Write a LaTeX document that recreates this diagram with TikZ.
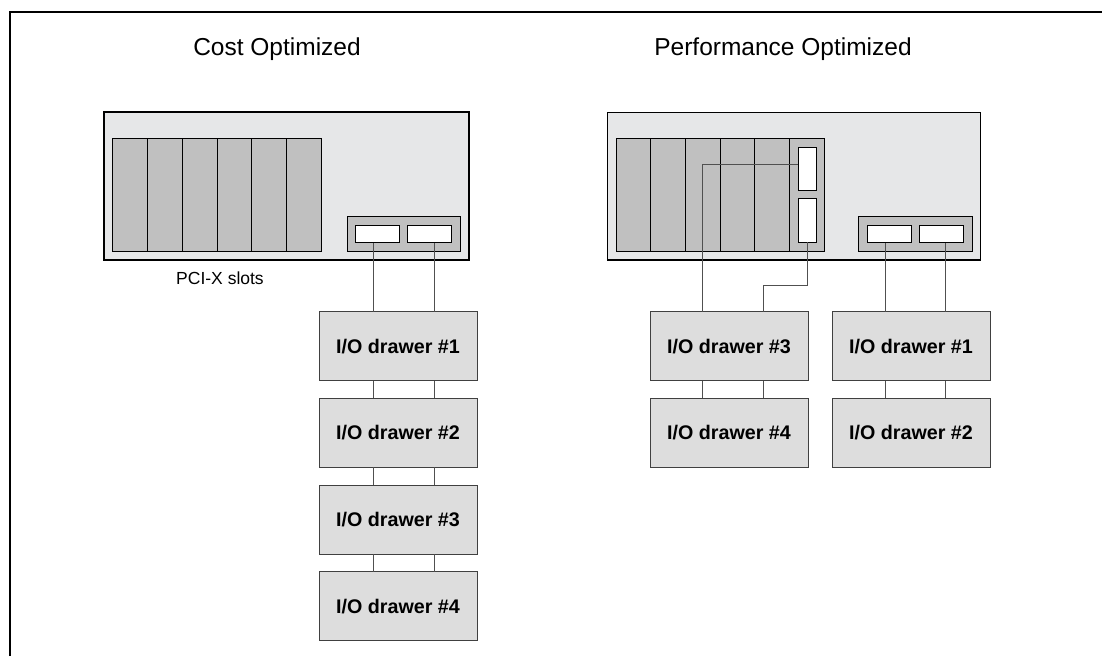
\documentclass[tikz,border=0pt]{standalone}
\usepackage{fontspec}
\setmainfont{Liberation Sans}
\usetikzlibrary{positioning}
\definecolor{casegray}{HTML}{E6E7E8}
\definecolor{slotgray}{HTML}{C0C0C0}
\definecolor{drawergray}{HTML}{DDDDDD}
\definecolor{wiregray}{HTML}{505050}
\tikzstyle{server} = [draw,fill=casegray,line width=1.2,inner sep=0,outer sep=0]
\tikzstyle{slot} = [draw,fill=slotgray,line width=1,inner sep=0,outer sep=0]
\tikzstyle{port} = [draw,fill=white,line width=1,inner sep=0,outer sep=0,minimum width=44,minimum height=17.7]
\tikzstyle{drawer} = [draw=black!75,fill=drawergray,line width=1,inner sep=0,outer sep=0,minimum width=158,minimum height=69,font=\fontsize{19.7}{23}\selectfont\bfseries]
\tikzstyle{cable} = [draw=wiregray,line width=0.9]
\tikzstyle{title} = [anchor=base,font=\fontsize{24.5}{28}\selectfont]

\begin{document}
\begin{tikzpicture}[x=1pt,y=-1pt]
    \useasboundingbox (0,0) rectangle (1102,656);
    \draw [line width=1.5] (10,656) -- (10,12) -- (1102,12);

    \node [title] (tcost) at (277,55) {Cost Optimized};
    \node [title] (tperf) at (783,55) {Performance Optimized};

    % cost optimized
    \node [server,minimum width=365,minimum height=148] (scost) at (286.5,186) {};
    \foreach \i in {0,...,5}
      \draw [slot] (112.7+34.77*\i,138.3) rectangle +(34.77,113.4);
    \node [slot,minimum width=113,minimum height=35.7] (hcost) at (403.5,233.9) {};
    \node [port] (pc1) at (377.3,233.9) {};
    \node [port] (pc2) at (429.7,233.9) {};
    \node [font=\fontsize{17.5}{20}\selectfont] (pci) at (220,278) {PCI-X slots};

    \node [drawer] (c1) at (398,346.2) {I/O drawer \#1};
    \node [drawer,below=17.7pt of c1] (c2) {I/O drawer \#2};
    \node [drawer,below=17.7pt of c2] (c3) {I/O drawer \#3};
    \node [drawer,below=17.7pt of c3] (c4) {I/O drawer \#4};

    \coordinate (ca) at (373.3,0);
    \coordinate (cb) at (434,0);
    \draw [cable] (ca |- pc1.south) -- (ca |- c1.north);
    \draw [cable] (cb |- pc2.south) -- (cb |- c1.north);
    \foreach \u/\l in {c1/c2,c2/c3,c3/c4} {
      \draw [cable] (ca |- \u.south) -- (ca |- \l.north);
      \draw [cable] (cb |- \u.south) -- (cb |- \l.north);
    }

    % performance optimized
    \node [server,minimum width=373.4,minimum height=147.7] (sperf) at (794,186.2) {};
    \foreach \i in {0,...,5}
      \draw [slot] (616+34.72*\i,138.3) rectangle +(34.72,113.4);
    \node [port,minimum width=17.7,minimum height=43.3] (pv1) at (807.2,168.7) {};
    \node [port,minimum width=17.7,minimum height=43.6] (pv2) at (807.2,220.5) {};
    \node [slot,minimum width=113.6,minimum height=35.7] (hperf) at (915.5,233.9) {};
    \node [port] (pp1) at (889.5,233.9) {};
    \node [port] (pp2) at (941.5,233.9) {};

    \node [drawer] (p3) at (729,346.2) {I/O drawer \#3};
    \node [drawer,below=17.7pt of p3] (p4) {I/O drawer \#4};
    \node [drawer] (p1) at (911,346.2) {I/O drawer \#1};
    \node [drawer,below=17.7pt of p1] (p2) {I/O drawer \#2};

    \coordinate (cc) at (702.7,0);
    \coordinate (cd) at (763.3,0);
    \coordinate (ce) at (885,0);
    \coordinate (cf) at (945.7,0);
    \draw [cable] ([yshift=4.4pt]pv1.west) -| (cc |- p3.north);
    \draw [cable] (pv2.south) -- ++(0,43.4) -| (cd |- p3.north);
    \draw [cable] (ce |- pp1.south) -- (ce |- p1.north);
    \draw [cable] (cf |- pp2.south) -- (cf |- p1.north);
    \draw [cable] (cc |- p3.south) -- (cc |- p4.north);
    \draw [cable] (cd |- p3.south) -- (cd |- p4.north);
    \draw [cable] (ce |- p1.south) -- (ce |- p2.north);
    \draw [cable] (cf |- p1.south) -- (cf |- p2.north);
\end{tikzpicture}
\end{document}
